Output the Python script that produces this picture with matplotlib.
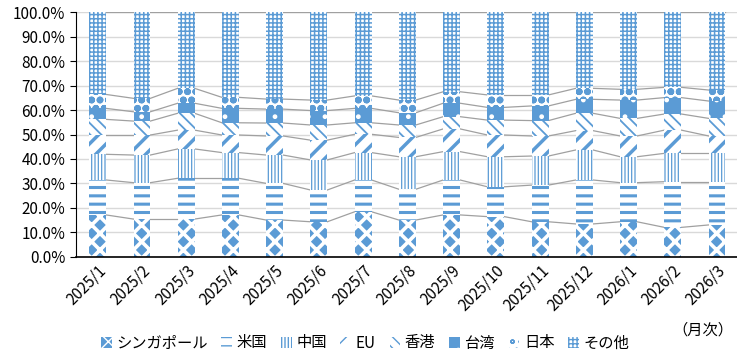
import numpy as np
import matplotlib
matplotlib.use("Agg")
import matplotlib.pyplot as plt
from matplotlib.ticker import FuncFormatter

plt.rcParams['font.family'] = ['Noto Sans CJK JP', 'DejaVu Sans']

months = ["2025/1", "2025/2", "2025/3", "2025/4", "2025/5", "2025/6", "2025/7", "2025/8",
          "2025/9", "2025/10", "2025/11", "2025/12", "2026/1", "2026/2", "2026/3"]

singapore = [17.1, 15.4, 15.4, 17.1, 15.0, 14.3, 18.4, 15.0, 17.1, 16.4, 14.3, 13.4, 14.3, 12.0, 13.0]
usa = [14.3, 14.9, 16.7, 15.0, 15.0, 13.0, 13.0, 12.6, 14.3, 12.2, 15.0, 18.0, 16.0, 18.7, 17.7]
china = [10.5, 11.3, 12.0, 10.5, 11.6, 12.3, 11.2, 13.3, 11.6, 12.3, 11.9, 12.3, 10.6, 11.6, 11.6]
eu = [7.9, 8.2, 7.7, 7.2, 7.8, 8.1, 7.5, 7.9, 9.3, 8.9, 8.2, 7.9, 8.5, 9.5, 7.1]
hongkong = [6.4, 5.7, 6.9, 5.0, 5.3, 6.2, 4.7, 5.1, 5.0, 6.1, 6.3, 7.1, 7.2, 6.6, 7.2]
taiwan = [4.5, 3.8, 4.1, 5.9, 5.7, 5.9, 5.9, 5.0, 5.5, 5.2, 6.0, 5.7, 7.5, 6.7, 7.1]
japan = [5.7, 5.5, 6.1, 4.5, 4.1, 4.3, 5.1, 5.2, 4.7, 5.1, 4.5, 4.5, 4.4, 4.2, 4.5]
others = [33.6, 35.2, 31.1, 34.8, 35.5, 35.9, 34.2, 35.9, 32.5, 33.8, 33.8, 31.1, 31.5, 30.7, 31.8]

names = ["シンガポール", "米国", "中国", "EU", "香港", "台湾", "日本", "その他"]
series = [singapore, usa, china, eu, hongkong, taiwan, japan, others]

blue = "#5B9BD5"
# (facecolor, hatchcolor, hatch, hatch linewidth)
styles = [
    (blue, "white", "xx", 2.6),
    ("white", blue, "--", 2.2),
    ("white", blue, "|||||", 0.9),
    ("white", blue, "//", 2.5),
    ("white", blue, "\\\\\\", 1.3),
    (blue, "white", ".", 1.0),
    ("white", blue, "oo", 2.5),
    ("white", blue, "++++", 1.1),
]

fig = plt.figure(figsize=(7.37, 3.52), dpi=100)
ax = fig.add_axes([0.1025, 0.2707, 0.8975, 0.6943])

x = np.arange(len(months))
w = 0.38
bottom = np.zeros(len(months))
handles = []
for vals, name, (fc, hc, hatch, hlw) in zip(series, names, styles):
    vals = np.array(vals)
    with plt.rc_context({'hatch.linewidth': hlw}):
        bars = ax.bar(x, vals, w, bottom=bottom, color=fc, edgecolor=hc,
                      hatch=hatch, linewidth=0, label=name, zorder=2)
    for p in bars:
        if hasattr(p, "set_hatch_linewidth"):
            p.set_hatch_linewidth(hlw)
    handles.append(bars)
    bottom = bottom + vals
    # series lines between neighbouring bars
    if name != "その他":
        for i in range(len(months) - 1):
            ax.plot([x[i] + w / 2, x[i + 1] - w / 2], [bottom[i], bottom[i + 1]],
                    color="#A0A0A0", lw=0.9, zorder=1)
ax.plot([x[0] + w / 2, x[-1] + w / 2], [100, 100], color="#A0A0A0", lw=0.9, zorder=1)

ax.set_ylim(0, 100)
ax.set_xlim(-0.5, 14.45)
ax.set_yticks(np.arange(0, 101, 10))
ax.yaxis.set_major_formatter(FuncFormatter(lambda v, p: "%.1f%%" % v))
ax.grid(axis="y", color="#D9D9D9", lw=1, zorder=0)
ax.set_axisbelow(True)
for s in ["top", "right"]:
    ax.spines[s].set_visible(False)
ax.spines["left"].set_color("black")
ax.spines["bottom"].set_color("black")
ax.spines["bottom"].set_linewidth(1.2)
ax.tick_params(axis="y", length=4, labelsize=11, direction="out")
ax.tick_params(axis="x", length=0, labelsize=11, pad=4)
ax.set_xticks(x)
ax.set_xticklabels(months, rotation=45, ha="right", rotation_mode="anchor")

fig.text(0.995, 1 - 330 / 352, "（月次）", ha="right", va="center", fontsize=11)

leg = fig.legend(handles=handles, labels=names, loc="center", ncol=8,
                 bbox_to_anchor=(365 / 737, 1 - 343 / 352), frameon=False, fontsize=11,
                 handlelength=0.7, handleheight=0.7, handletextpad=0.3, columnspacing=0.9)

fig.savefig("out.png", dpi=100)
